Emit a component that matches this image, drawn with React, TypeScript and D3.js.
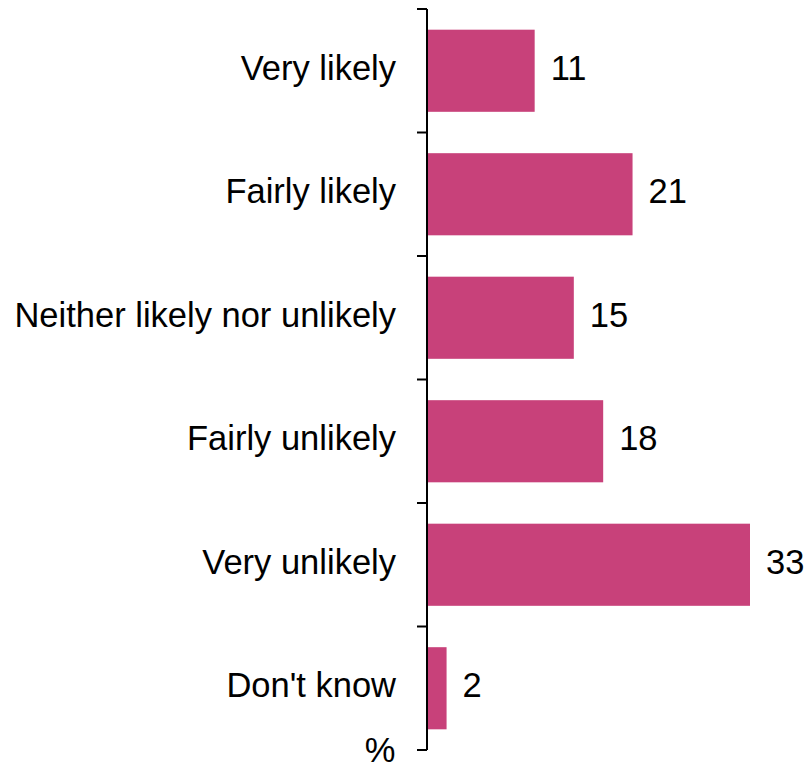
import React from "react";
import * as d3 from "d3";

const categories = ["Very likely", "Fairly likely", "Neither likely nor unlikely", "Fairly unlikely", "Very unlikely", "Don't know"];
const values = [11, 21, 15, 18, 33, 2];
const unitLabel = "%";

export default function App() {
  const W = 805, H = 762;
  const x0 = 427;
  const x = d3.scaleLinear().domain([0, 33]).range([x0, 750]);
  const y = d3.scaleBand<string>().domain(categories).range([9, 750]).paddingInner(0.335).paddingOuter(0.1675);
  const tickYs = [9, ...categories.map((c) => (y(c)! + y.bandwidth() + y.step() * 0.1675))];
  const font = "Liberation Sans, Arial, sans-serif";
  const fs = 34.5;
  return (
    <svg width={W} height={H} style={{ position: "absolute", left: 0, top: 0 }}>
      <rect width={W} height={H} fill="#fff" />
      {categories.map((c, i) => (
        <g key={c}>
          <rect x={x0} y={y(c)} width={x(values[i]) - x0} height={y.bandwidth()} fill="#C8417A" />
          <text x={396} y={y(c)! + y.bandwidth() / 2 + 9} textAnchor="end" fontFamily={font} fontSize={fs} fill="#000">{c}</text>
          <text x={x(values[i]) + 16} y={y(c)! + y.bandwidth() / 2 + 9} textAnchor="start" fontFamily={font} fontSize={fs} fill="#000">{values[i]}</text>
        </g>
      ))}
      <line x1={x0} x2={x0} y1={9} y2={750} stroke="#000" strokeWidth={2} />
      {tickYs.map((t, i) => (
        <line key={i} x1={417} x2={x0} y1={t} y2={t} stroke="#000" strokeWidth={2} />
      ))}
      <text x={380} y={762} textAnchor="middle" fontFamily={font} fontSize={fs} fill="#000">{unitLabel}</text>
    </svg>
  );
}
